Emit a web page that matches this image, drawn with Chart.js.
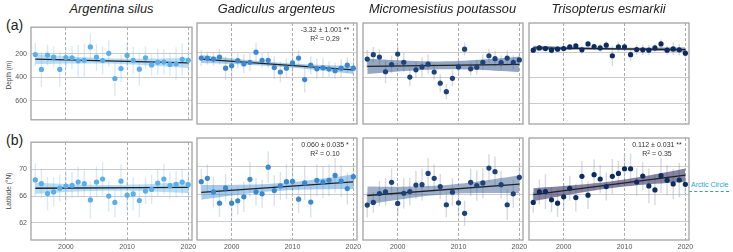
<!DOCTYPE html>
<html>
<head>
<meta charset="utf-8">
<script src="https://cdn.jsdelivr.net/npm/chart.js@4.4.1/dist/chart.umd.min.js"></script>
<style>
body{margin:0;background:#fff;width:733px;height:252px;position:relative;overflow:hidden;font-family:"Liberation Sans",Arial,sans-serif;color:#222}
canvas{position:absolute}
.ttl{position:absolute;font-style:italic;font-size:12.8px;line-height:15px;text-align:center;width:161px;top:1px}
.lab{position:absolute;font-size:14px;line-height:16px}
.ax{position:absolute;font-size:6.5px;white-space:nowrap;color:#444;transform:translate(-50%,-50%) rotate(-90deg)}
.ann{position:absolute;font-size:7px;line-height:8px;text-align:center;width:60px;color:#333;white-space:nowrap}
.ann sup{font-size:5px;line-height:0;vertical-align:2px}
.arc{position:absolute;font-size:7px;color:#2a9fd0;white-space:nowrap}
.arcline{position:absolute;border-top:1.3px dashed #2a9fd0;width:40px;height:0}
</style>
</head>
<body>
<div class="lab" style="left:6px;top:17px">(a)</div>
<div class="lab" style="left:6px;top:132px">(b)</div>
<div class="ax" style="left:7.5px;top:75px">Depth (m)</div>
<div class="ax" style="left:7.5px;top:191px">Latitude (°N)</div>
<div class="arc" style="left:691px;top:181px">Arctic Circle</div>
<div class="arcline" style="left:689px;top:191px"></div>

<script>
// survey years
const years = [1995,1996,1997,1998,1999,2000,2001,2002,2003,2004,2005,2006,2007,2008,2009,2010,2011,2012,2013,2014,2015,2016,2017,2018,2019,2020];

const species = ["Argentina silus","Gadiculus argenteus","Micromesistius poutassou","Trisopterus esmarkii"];

// (a) mean depth (m) and error
const depthArg = [205,332,210,228,332,231,233,259,254,141,228,256,195,409,325,213,254,330,233,294,271,269,289,284,246,254];
const depthArgErr = [100,150,90,90,150,90,100,135,140,115,115,120,110,150,115,100,115,140,95,90,110,110,100,140,135,95];
const depthGad = [246,246,254,238,325,307,266,292,279,200,264,264,320,355,325,284,246,414,302,330,322,332,345,325,302,325];
const depthGadErr = [60,50,55,60,90,100,60,75,70,70,55,60,90,80,75,90,60,100,70,80,75,60,65,70,60,55];
const depthMic = [254,220,238,353,297,215,279,394,338,315,294,355,442,508,404,315,177,330,317,279,228,251,282,246,279,261];
const depthMicErr = [70,60,60,90,70,60,75,70,60,75,75,60,70,60,60,60,50,55,60,60,55,60,55,60,55,45];
const depthTri = [185,167,172,185,177,172,159,152,182,136,157,167,146,228,159,159,220,180,182,185,167,136,185,175,182,208];
const depthTriErr = [20,20,20,25,25,20,25,25,30,25,25,30,30,80,40,30,50,40,40,40,30,35,35,50,45,35];

// (b) mean latitude (°N) and error
const latArg = [68.43,67.86,66.38,66.62,67.19,67.52,67.62,68.10,67.86,65.43,68.10,68.57,66.00,65.05,68.24,66.14,66.33,65.33,66.76,67.00,67.95,68.57,67.57,67.76,68.10,67.71];
const latArgErr = [2.5,2.2,2.5,2.2,2.0,2.3,2.0,2.3,2.0,2.8,2.3,2.5,2.3,2.2,2.5,2.3,2.5,2.5,2.0,2.2,2.0,2.3,2.0,2.0,2.0,2.0];
const latGad = [67.81,68.29,66.33,64.71,66.90,64.71,65.05,65.62,68.14,66.33,66.05,69.90,66.52,67.19,67.81,67.86,65.29,67.62,64.86,68.00,67.76,68.00,68.71,67.90,66.81,68.52];
const latGadErr = [1.8,2.0,2.2,2.0,2.0,2.0,2.0,2.2,2.5,2.0,2.0,2.3,2.2,2.0,2.5,2.3,2.0,2.5,2.2,2.3,2.3,2.3,2.5,2.3,2.3,1.8];
const latMic = [64.43,64.81,66.10,66.33,67.71,64.67,66.14,66.38,67.33,67.38,69.00,68.29,67.10,64.48,66.29,64.76,63.24,67.71,67.24,67.62,69.76,69.24,67.38,64.48,66.05,68.43];
const latMicErr = [1.8,1.5,1.8,2.0,2.0,1.8,2.2,2.0,2.0,2.3,2.2,2.0,1.8,1.8,2.0,2.0,1.8,2.0,2.2,2.2,2.0,2.2,2.0,2.2,2.0,1.5];
const latTri = [64.81,66.33,66.38,65.19,64.71,65.62,66.86,65.52,68.57,65.86,68.81,68.19,67.10,68.57,69.00,69.67,69.67,67.76,68.62,67.19,66.62,68.67,68.00,67.48,68.05,67.43];
const latTriErr = [1.5,1.8,2.5,1.8,2.0,2.0,1.8,2.0,2.2,2.0,2.2,2.0,2.0,2.5,1.8,2.0,2.2,2.0,2.0,2.5,2.2,2.5,2.2,2.2,2.5,1.5];

const xTicks = [2000,2010,2020];
const depthTicks = [200,400,600];
const latTicks = [62,66,70];

// trend annotations: [row, col, line1, R2 value]
const notes = [
  ["a",1,"-3.32 ± 1.001 **","0.29"],
  ["b",1,"0.060 ± 0.035 *","0.10"],
  ["b",3,"0.112 ± 0.031 **","0.35"]
];

const colLeft = [31,196,362,528];
const rowTop = {a:22, b:137};
const PW = 161, PH = 103;

const ptCol = ['#5aaee9','#3a88d0','#1c4279','#0c2b5e'];
const barCol = ['rgba(140,195,240,0.35)','rgba(150,170,200,0.35)','rgba(150,160,185,0.4)','rgba(150,160,185,0.4)'];
const bandA = ['rgba(100,180,235,0.45)','rgba(60,140,210,0.45)','rgba(40,80,135,0.5)','rgba(30,50,100,0.5)'];
const bandB = ['rgba(100,180,235,0.45)','rgba(60,140,210,0.45)','rgba(40,80,135,0.45)','rgba(55,50,100,0.6)'];

function ols(xs, ys){
  const n = xs.length;
  const xm = xs.reduce((a,b)=>a+b,0)/n, ym = ys.reduce((a,b)=>a+b,0)/n;
  let sxx=0, sxy=0;
  xs.forEach((x,i)=>{ sxx+=(x-xm)*(x-xm); sxy+=(x-xm)*(ys[i]-ym); });
  const b = sxy/sxx;
  let sse=0;
  xs.forEach((x,i)=>{ const r=ys[i]-(ym+b*(x-xm)); sse+=r*r; });
  const s = Math.sqrt(sse/(n-2));
  return {xm, ym, b, s, sxx, n};
}

const frame = {
  id:'frame',
  afterDatasetsDraw(chart){
    const a = chart.chartArea, ctx = chart.ctx;
    ctx.save();
    ctx.strokeStyle = '#a3a3a3';
    ctx.lineWidth = 1.3;
    ctx.strokeRect(a.left, a.top, a.right-a.left, a.bottom-a.top);
    ctx.restore();
  }
};

function panel(row, col, vals, errs){
  const depth = row === 'a';
  const showY = col === 0, showX = row === 'b';
  const yw = showY ? 28 : 0, xh = showX ? 14 : 0;
  const pad = {left:3, right:12, top:3, bottom:3};
  const cv = document.createElement('canvas');
  const w = pad.left + yw + PW + pad.right, h = pad.top + PH + xh + pad.bottom;
  cv.width = w; cv.height = h;
  cv.style.left = (colLeft[col] - pad.left - yw) + 'px';
  cv.style.top = (rowTop[row] - pad.top) + 'px';
  cv.style.width = w + 'px'; cv.style.height = h + 'px';
  document.body.appendChild(cv);

  const f = ols(years, vals);
  const t = 2.064;
  const fitLine = [years[0], years[years.length-1]].map(x=>({x, y:f.ym + f.b*(x-f.xm)}));
  const up = [], lo = [];
  years.forEach(x=>{
    const yh = f.ym + f.b*(x-f.xm);
    const se = f.s*Math.sqrt(1/f.n + (x-f.xm)*(x-f.xm)/f.sxx);
    up.push({x, y:yh + t*se});
    lo.push({x, y:yh - t*se});
  });
  const bars = [];
  years.forEach((x,i)=>{
    bars.push({x, y:vals[i]-errs[i]}, {x, y:vals[i]+errs[i]}, {x, y:null});
  });
  const pts = years.map((x,i)=>({x, y:vals[i]}));

  new Chart(cv, {
    type:'scatter',
    data:{datasets:[
      {data:pts, backgroundColor:ptCol[col], borderWidth:0, pointRadius:2.6},
      {type:'line', data:fitLine, borderColor:'#222', borderWidth:1.3, pointRadius:0, fill:false},
      {type:'line', data:up, borderWidth:0, pointRadius:0, fill:'+1', backgroundColor:depth ? bandA[col] : bandB[col]},
      {type:'line', data:lo, borderWidth:0, pointRadius:0, fill:false},
      {type:'line', data:bars, borderColor:barCol[col], borderWidth:1.4, pointRadius:0, spanGaps:false, fill:false}
    ]},
    options:{
      responsive:false, animation:false, events:[],
      layout:{padding:pad},
      plugins:{legend:{display:false}, tooltip:{enabled:false}},
      scales:{
        x:{
          type:'linear', min:1994.3, max:2020.6,
          afterBuildTicks:s=>{ s.ticks = xTicks.map(v=>({value:v})); },
          afterFit:s=>{ s.height = xh; },
          grid:{color:'#adadad', lineWidth:1, drawTicks:false},
          border:{display:false, dash:[3,2]},
          ticks:{display:showX, color:'#555', font:{size:7, family:'Liberation Sans'}, padding:3, maxRotation:0, callback:v=>String(v)}
        },
        y:{
          type:'linear', reverse:depth,
          min: depth ? -27 : 59.4, max: depth ? 760 : 74.1,
          afterBuildTicks:s=>{ s.ticks = (depth ? depthTicks : latTicks).map(v=>({value:v})); },
          afterFit:s=>{ s.width = yw; },
          grid:{color:'#cccccc', lineWidth:1, drawTicks:false},
          border:{display:false},
          ticks:{display:showY, color:'#555', font:{size:7, family:'Liberation Sans'}, padding:4, callback:v=>String(v)}
        }
      }
    },
    plugins:[frame]
  });
}

const depthSets = [[depthArg,depthArgErr],[depthGad,depthGadErr],[depthMic,depthMicErr],[depthTri,depthTriErr]];
const latSets = [[latArg,latArgErr],[latGad,latGadErr],[latMic,latMicErr],[latTri,latTriErr]];

depthSets.forEach((d,c)=>panel('a', c, d[0], d[1]));
latSets.forEach((d,c)=>panel('b', c, d[0], d[1]));

species.forEach((name,c)=>{
  const el = document.createElement('div');
  el.className = 'ttl';
  el.style.left = colLeft[c] + 'px';
  el.textContent = name;
  document.body.appendChild(el);
});

notes.forEach(n=>{
  const cx = colLeft[n[1]] + PW - 32;
  const top = rowTop[n[0]] + 4;
  const l1 = document.createElement('div');
  l1.className = 'ann';
  l1.style.left = (cx - 30) + 'px';
  l1.style.top = top + 'px';
  l1.textContent = n[2];
  document.body.appendChild(l1);
  const l2 = document.createElement('div');
  l2.className = 'ann';
  l2.style.left = (cx - 30) + 'px';
  l2.style.top = (top + 8.7) + 'px';
  l2.innerHTML = 'R<sup>2</sup> = ' + n[3];
  document.body.appendChild(l2);
});
</script>
</body>
</html>
